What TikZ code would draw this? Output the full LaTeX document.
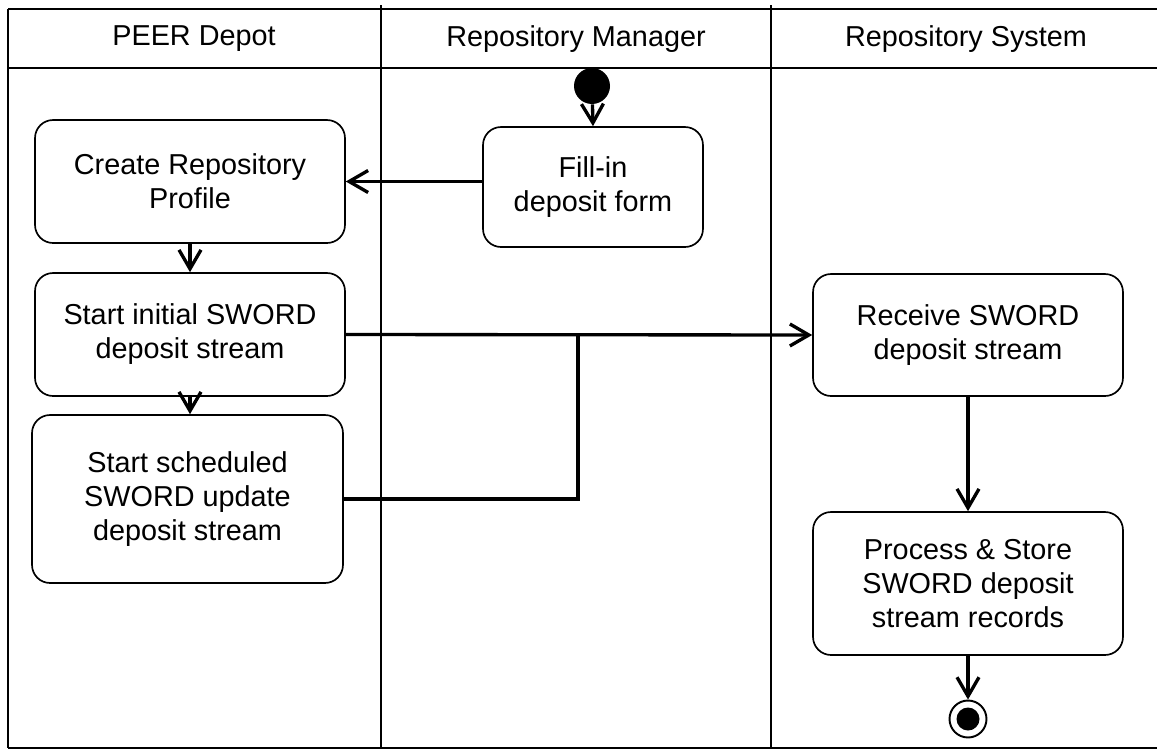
\documentclass[tikz,border=0pt]{standalone}
\usepackage{fontspec}
\setmainfont{Liberation Sans}
\usetikzlibrary{positioning,arrows.meta}
\tikzset{
    lane line/.style={line width=0.95pt, black},
    lane label/.style={font=\fontsize{16.4}{19.4}\selectfont},
    action/.style={rectangle, rounded corners=0.36cm, draw, line width=0.95pt, align=center, inner sep=0pt, font=\fontsize{16.4}{19.4}\selectfont},
    start state/.style={circle, fill=black, minimum size=0.72cm, inner sep=0pt},
    end state/.style={circle, draw, line width=1.1pt, minimum size=0.74cm, inner sep=0pt},
    end dot/.style={circle, fill=black, minimum size=0.46cm, inner sep=0pt},
    flow/.style={-{Straight Barb[length=0.38cm,width=0.44cm]}, line width=1.9pt},
    merge line/.style={line width=1.9pt}
}

\begin{document}
\begin{tikzpicture}[x=0.02cm, y=-0.02cm]
    \useasboundingbox (0,0) rectangle (1157,751);

    % Swimlanes
    \draw[lane line] (8,9) -- (1170,9);
    \draw[lane line] (8,68) -- (1170,68);
    \draw[lane line] (8,748) -- (1170,748);
    \draw[lane line] (8,9) -- (8,748);
    \foreach \x in {381,771} {
        \draw[lane line] (\x,5) -- (\x,748);
    }

    % Lane headers
    \node[lane label] (hdr-peer) at (194,39) {PEER Depot};
    \node[lane label] (hdr-manager) at (576,39) {Repository Manager};
    \node[lane label] (hdr-system) at (966,39) {Repository System};

    % Repository Manager
    \node[start state] (start) at (592,86) {};
    \node[action, minimum width=4.4cm, minimum height=2.4cm] (fill) at (593,187) {Fill-in\\deposit form};

    % PEER Depot
    \node[action, minimum width=6.2cm, minimum height=2.46cm] (create) at (190,181.5) {Create Repository\\Profile};
    \node[action, minimum width=6.2cm, minimum height=2.46cm] (initial) at (190,334.5) {Start initial SWORD\\deposit stream};
    \node[action, minimum width=6.22cm, minimum height=3.36cm] (sched) at (187.5,499) {Start scheduled\\SWORD update\\deposit stream};

    % Repository System
    \node[action, minimum width=6.2cm, minimum height=2.44cm] (receive) at (968,335) {Receive SWORD\\deposit stream};
    \node[action, minimum width=6.2cm, minimum height=2.86cm] (process) at (968,583.5) {Process \& Store\\SWORD deposit\\stream records};
    \node[end state] (end) at (968,719) {};
    \node[end dot] (end-dot) at (end) {};

    % Flows
    \coordinate (merge) at (578,335);
    \draw[flow] (start) -- (fill.north);
    \draw[flow] (fill.west |- create.east) -- (create.east);
    \draw[flow] (create.south) -- (initial.north);
    \draw[flow] (initial.south) -- (initial.south |- sched.north);
    \draw[flow] (initial.east) -- (receive.west);
    \draw[merge line] (sched.east) -| (merge);
    \draw[flow] (receive.south) -- (process.north);
    \draw[flow] (process.south) -- (end.north);
\end{tikzpicture}
\end{document}
